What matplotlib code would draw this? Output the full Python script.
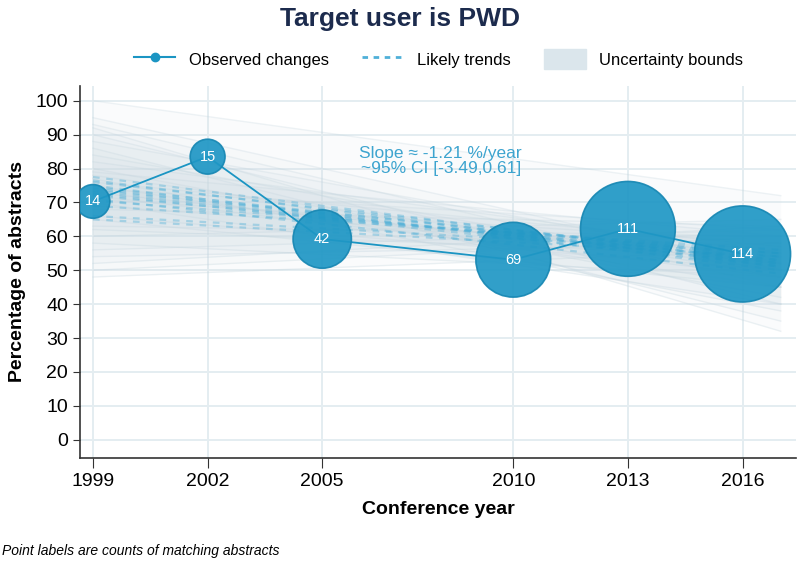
import numpy as np
import matplotlib
matplotlib.use("Agg")
import matplotlib.pyplot as plt
from matplotlib.lines import Line2D
from matplotlib.patches import Patch

plt.rcParams['font.family'] = ['Liberation Sans', 'DejaVu Sans']

# ---------------------------------------------------------------------------
# data
# ---------------------------------------------------------------------------
years = [1999, 2002, 2005, 2010, 2013, 2016]
pct = [70.3, 83.5, 59.2, 53.1, 62.2, 54.8]
counts = [14, 15, 42, 69, 111, 114]

# bootstrap fits: value at 1999 and at 2017
fit_x = [1999, 2017]
boot_start = [100, 95, 93, 92, 90, 88, 86, 84, 82, 80, 79, 78, 77, 76, 75, 74, 73,
              72, 71, 70, 69, 68, 66, 65, 63, 62, 60, 58, 56, 54, 52, 50, 48]
boot_end = [72, 50, 45, 32, 40, 52, 35, 48, 55, 42, 60, 50, 38, 57, 45, 62, 52,
            48, 58, 40, 55, 63, 50, 45, 60, 54, 65, 48, 62, 58, 63, 60, 56]

# likely trends (dashed)
likely_start = [77.5, 76.5, 76, 75, 74.5, 74, 73.5, 73, 72.5, 72, 71, 70.5, 69, 66, 65]
likely_end = [52, 51, 53, 50, 52.5, 51.5, 54, 52, 51, 53, 49, 55, 56, 55, 54]

slope_txt = "Slope \u2248 -1.21 %/year\n~95% CI [-3.49,0.61]"

blue = "#1b95c3"
light_blue = "#4fb0d8"
band = "#dbe6ec"
grid_c = "#e4edf1"

fig = plt.figure(figsize=(8, 5.63), dpi=100)
ax = fig.add_axes([0.1, 0.187, 0.895, 0.66])

# faint bootstrap fits, each shading toward the centre
xs = np.array(fit_x, dtype=float)
mid = [np.median(boot_start), np.median(boot_end)]
for s, e in zip(boot_start, boot_end):
    ax.fill_between(xs, [s, e], mid, color="#cfdde5", alpha=0.09, lw=0, zorder=1)
    ax.plot(xs, [s, e], color="#c4d5de", lw=1, alpha=0.3, zorder=2)

for s, e in zip(likely_start, likely_end):
    ax.plot(xs, [s, e], color=light_blue, lw=1.6, alpha=0.4,
            dashes=(3, 3), zorder=3)

# observed changes
ax.plot(years, pct, color=blue, lw=1.3, zorder=4)
ax.scatter(years, pct, s=np.array(counts) * 42, color="#1f97c5", alpha=0.92,
           edgecolor="#1787b3", linewidth=1.2, zorder=5)
for x, y, n in zip(years, pct, counts):
    ax.text(x, y, str(n), color="white", ha="center", va="center",
            fontsize=10.5, zorder=6)

ax.text(2008.1, 82.3, slope_txt, color="#3da4cf", ha="center", va="center",
        fontsize=12.5, linespacing=1.0, zorder=6)

ax.set_xlim(1998.66, 2017.4)
ax.set_ylim(-5.3, 104.3)
ax.set_xticks(years)
ax.set_yticks(range(0, 101, 10))
ax.grid(True, color=grid_c, lw=1.4)
ax.set_axisbelow(True)
for side in ("top", "right"):
    ax.spines[side].set_visible(False)
for side in ("left", "bottom"):
    ax.spines[side].set_color("#333333")
    ax.spines[side].set_linewidth(1.2)
ax.tick_params(axis="y", length=5, labelsize=14, color="#333333")
ax.tick_params(axis="x", length=7, labelsize=14, color="#333333", pad=4)

ax.set_xlabel("Conference year", fontsize=14, fontweight="bold", labelpad=8)
ax.set_ylabel("Percentage of abstracts", fontsize=14, fontweight="bold",
              labelpad=7)

fig.text(0.5, 0.967, "Target user is PWD", ha="center", va="center",
         fontsize=19, fontweight="bold", color="#1c2b4d")

handles = [
    Line2D([], [], color=blue, lw=1.5, marker="o", markersize=6),
    Line2D([], [], color=light_blue, lw=2, dashes=(2, 2)),
    Patch(facecolor=band, edgecolor=band),
]
fig.legend(handles, ["Observed changes", "Likely trends", "Uncertainty bounds"],
           loc="center", bbox_to_anchor=(0.548, 0.895), ncol=3, frameon=False,
           fontsize=12, handlelength=2.5, columnspacing=2.0, handleheight=1.4)

fig.text(0.003, 0.022, "Point labels are counts of matching abstracts",
         fontsize=10, style="italic", ha="left", va="center")

fig.savefig("out.png", dpi=100)
